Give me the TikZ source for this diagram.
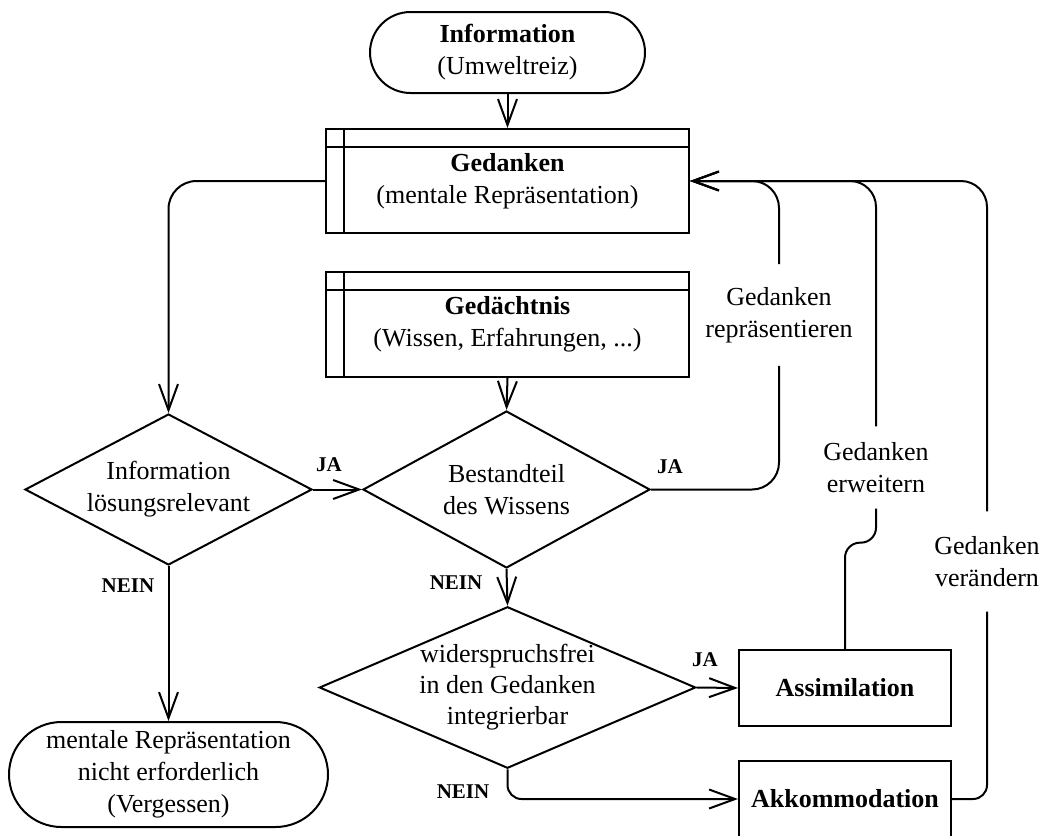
\documentclass[tikz,border=0pt]{standalone}
\usepackage{fontspec}
\setmainfont{Liberation Serif}
\usetikzlibrary{shapes.geometric,shapes.misc,arrows.meta}
\begin{document}
\begin{tikzpicture}[x=1pt,y=-1pt,
  line width=2pt,
  every node/.style={font=\fontsize{26}{32}\selectfont, align=center},
  term/.style={draw, rounded rectangle, inner sep=0pt},
  dec/.style={draw, diamond, inner sep=0pt, aspect=1.9},
  proc/.style={draw, rectangle, inner sep=0pt, minimum width=212pt,
    minimum height=76pt, font=\fontsize{26}{32}\selectfont\bfseries},
  store/.style={draw, rectangle, inner sep=0pt, minimum width=363pt,
    minimum height=104pt,
    path picture={\draw
      ([xshift=18pt]path picture bounding box.north west) --
      ([xshift=18pt]path picture bounding box.south west)
      ([yshift=-18pt]path picture bounding box.north west) --
      ([yshift=-18pt]path picture bounding box.north east);}},
  flow/.style={-{Straight Barb[length=26pt,width=19pt]}},
  bend/.style={rounded corners=#1},
  tag/.style={font=\fontsize{21}{24}\selectfont\bfseries},
  lbl/.style={inner xsep=0pt, inner ysep=#1}
]
\useasboundingbox (0,0) rectangle (1046,835);

% start, stores and decisions
\node[term, minimum width=275pt, minimum height=81pt] (info) at (507.5,52.5)
  {\textbf{Information}\\(Umweltreiz)};
\node[store] (ged) at (507.5,181)
  {\textbf{Gedanken}\\(mentale Repräsentation)};
\node[store, minimum height=105pt] (mem) at (507.5,324.5)
  {\textbf{Gedächtnis}\\(Wissen, Erfahrungen, ...)};
\node[dec, minimum width=287pt, minimum height=151pt] (rel) at (168.5,489.5)
  {Information\\lösungsrelevant};
\node[dec, minimum width=287pt, minimum height=157pt] (part) at (506.5,489.5)
  {Bestandteil\\des Wissens};
\node[dec, aspect=2.33, minimum width=375pt, minimum height=161pt,
  font=\fontsize{26}{31}\selectfont] (int) at (507.5,687.5)
  {widerspruchsfrei\\in den Gedanken\\integrierbar};
\node[term, minimum width=319pt, minimum height=105pt] (forget) at (168.5,774.5)
  {mentale Repräsentation\\nicht erforderlich\\(Vergessen)};
\node[proc] (assim) at (845,688) {Assimilation};
\node[proc] (akk) at (845,799) {Akkommodation};

% feedback labels
\node[lbl=22pt] (rep) at (779,315) {Gedanken\\repräsentieren};
\node[lbl=15pt] (erw) at (876,467.5) {Gedanken\\erweitern};
\node[lbl=24pt] (ver) at (987,561.5) {Gedanken\\verändern};

% branch labels
\node[tag] (ja1) at (329,465) {JA};
\node[tag] (ja2) at (670,467) {JA};
\node[tag] (ja3) at (705,660) {JA};
\node[tag] (nein1) at (128,586) {NEIN};
\node[tag] (nein2) at (456,583) {NEIN};
\node[tag] (nein3) at (463,792) {NEIN};

% main flow
\draw[flow] (info.south) -- (ged.north);
\draw[flow] (mem.south) -- (part.north);
\draw[flow, bend=28pt] (ged.west) -| (rel.north);
\draw[flow] (rel.east) -- (part.west);
\draw[flow] (rel.south) -- (forget.north);
\draw[flow] (part.south) -- (int.north);
\draw[flow] (int.east) -- (assim.west);
\draw[flow, bend=14pt] (int.south) |- (akk.west);

% feedback into the thoughts
\draw[bend=27pt] (part.east) -| (rep.south);
\draw[flow, bend=27pt] (rep.north) |- (ged.east);
\draw[bend=15pt] (assim.north) |- ([yshift=-34pt]erw.south) -- (erw.south);
\draw[flow, bend=26pt] (erw.north) |- (ged.east);
\draw[bend=14pt] (akk.east) -| (ver.south);
\draw[flow, bend=26pt] (ver.north) |- (ged.east);
\end{tikzpicture}
\end{document}
